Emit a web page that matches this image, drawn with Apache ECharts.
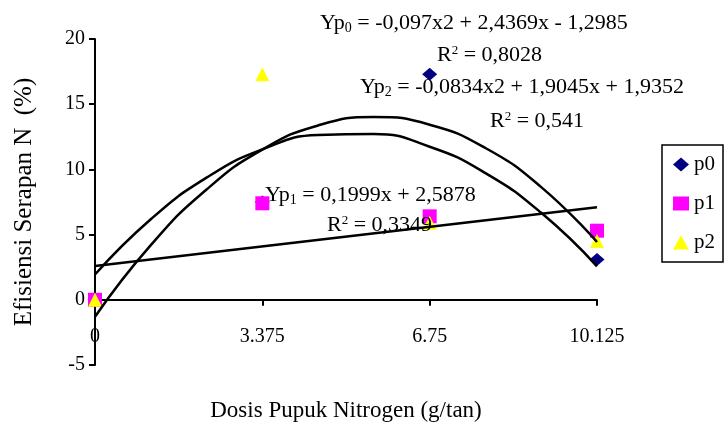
<!DOCTYPE html>
<html>
<head>
<meta charset="utf-8">
<script src="https://cdn.jsdelivr.net/npm/echarts@6/dist/echarts.min.js"></script>
<style>
  html, body { margin: 0; padding: 0; background: #fff; }
  #chart { width: 727px; height: 423px; }
</style>
</head>
<body>
<div id="chart"></div>
<script>
// dosis pupuk (g/tan)
var doses = [0, 3.375, 6.75, 10.125];
// efisiensi serapan N (%)
var p0 = [0, 7.5, 17.3, 3.1];
var p1 = [0, 7.4, 6.4, 5.3];
var p2 = [0, 17.3, 5.9, 4.5];

// trendline points
var trendX = [0, 1.125, 2.25, 3.375, 4.5, 5.625, 6.75, 7.875, 9, 10.125];
var trendP0 = [-1.3, 4.19, 8.46, 11.52, 13.37, 14.01, 13.43, 11.64, 8.64, 4.43];
var trendP2 = [1.94, 6.18, 9.37, 11.53, 12.64, 12.71, 11.74, 9.72, 6.67, 2.57];
var trendP1X = [0, 10.125];
var trendP1 = [2.59, 7.09];

var xTicks = ["0", "3.375", "6.75", "10.125"];

function pairs(xs, ys) {
  return xs.map(function (x, i) { return [x, ys[i]]; });
}

var font = "Liberation Serif";
var chart = echarts.init(document.getElementById("chart"));

var eqRich = {
  a: { fontFamily: font, fontSize: 22, color: "#000" },
  s: { fontFamily: font, fontSize: 14, color: "#000", padding: [10, 0, 0, 0] },
  u: { fontFamily: font, fontSize: 13, color: "#000", padding: [0, 0, 10, 0] }
};

function eqText(left, top, str) {
  return {
    type: "text",
    left: left,
    top: top,
    z: 100,
    style: { text: str, rich: eqRich, font: "22px " + font, fill: "#000" }
  };
}

var option = {
  animation: false,
  backgroundColor: "#fff",
  grid: { left: 95, right: 130, top: 39, bottom: 58, outerBoundsMode: "none", containLabel: false },
  legend: {
    orient: "vertical",
    right: 4,
    top: 145,
    itemGap: 18,
    itemWidth: 16,
    itemHeight: 14,
    padding: [9, 8, 9, 11],
    borderColor: "#000",
    borderWidth: 1.5,
    textStyle: { fontFamily: font, fontSize: 21, color: "#000" },
    data: [
      { name: "p0", icon: "diamond" },
      { name: "p1", icon: "rect" },
      { name: "p2", icon: "triangle" }
    ]
  },
  xAxis: {
    type: "value",
    min: 0,
    max: 10.125,
    interval: 3.375,
    offset: -65.2,
    name: "Dosis Pupuk Nitrogen (g/tan)",
    nameLocation: "middle",
    nameGap: 100,
    nameTextStyle: { fontFamily: font, fontSize: 23, color: "#000" },
    axisLine: { onZero: false, lineStyle: { color: "#000", width: 2 } },
    axisTick: { show: true, length: 6, lineStyle: { color: "#000", width: 2 } },
    axisLabel: {
      margin: 27,
      fontFamily: font,
      fontSize: 20,
      color: "#000",
      formatter: function (v) {
        var i = Math.round(v / 3.375);
        return xTicks[i] !== undefined ? xTicks[i] : "";
      }
    },
    splitLine: { show: false }
  },
  yAxis: {
    type: "value",
    min: -5,
    max: 20,
    interval: 5,
    name: "Efisiensi Serapan N  (%)",
    nameLocation: "middle",
    nameGap: 58,
    nameTextStyle: { fontFamily: font, fontSize: 25, color: "#000" },
    axisLine: { show: true, onZero: false, lineStyle: { color: "#000", width: 2 } },
    axisTick: { show: true, length: 6, lineStyle: { color: "#000", width: 2 } },
    axisLabel: { margin: 10, fontFamily: font, fontSize: 20, color: "#000" },
    splitLine: { show: false }
  },
  series: [
    {
      name: "p0",
      type: "scatter",
      symbol: "diamond",
      symbolSize: [15, 13],
      itemStyle: { color: "#000080", opacity: 1 },
      z: 2,
      data: pairs(doses, p0)
    },
    {
      name: "p1",
      type: "scatter",
      symbol: "rect",
      symbolSize: 14,
      itemStyle: { color: "#ff00ff", opacity: 1 },
      z: 3,
      data: pairs(doses, p1)
    },
    {
      name: "p2",
      type: "scatter",
      symbol: "triangle",
      symbolSize: 14,
      itemStyle: { color: "#ffff00", opacity: 1 },
      z: 4,
      data: pairs(doses, p2)
    },
    {
      name: "trend p0",
      type: "line",
      smooth: true,
      showSymbol: false,
      z: 10,
      lineStyle: { color: "#000", width: 2.5 },
      data: pairs(trendX, trendP0)
    },
    {
      name: "trend p2",
      type: "line",
      smooth: true,
      showSymbol: false,
      z: 10,
      lineStyle: { color: "#000", width: 2.5 },
      data: pairs(trendX, trendP2)
    },
    {
      name: "trend p1",
      type: "line",
      showSymbol: false,
      z: 10,
      lineStyle: { color: "#000", width: 2.5 },
      data: pairs(trendP1X, trendP1)
    }
  ],
  graphic: [
    eqText(320, 12, "{a|Yp}{s|0}{a| = -0,097x2 + 2,4369x - 1,2985}"),
    eqText(437, 44, "{a|R}{u|2}{a| = 0,8028}"),
    eqText(360, 76, "{a|Yp}{s|2}{a| = -0,0834x2 + 1,9045x + 1,9352}"),
    eqText(490, 110, "{a|R}{u|2}{a| = 0,541}"),
    eqText(265, 184, "{a|Yp}{s|1}{a| = 0,1999x + 2,5878}"),
    eqText(327, 214, "{a|R}{u|2}{a| = 0,3349}")
  ]
};

chart.setOption(option);
</script>
</body>
</html>
